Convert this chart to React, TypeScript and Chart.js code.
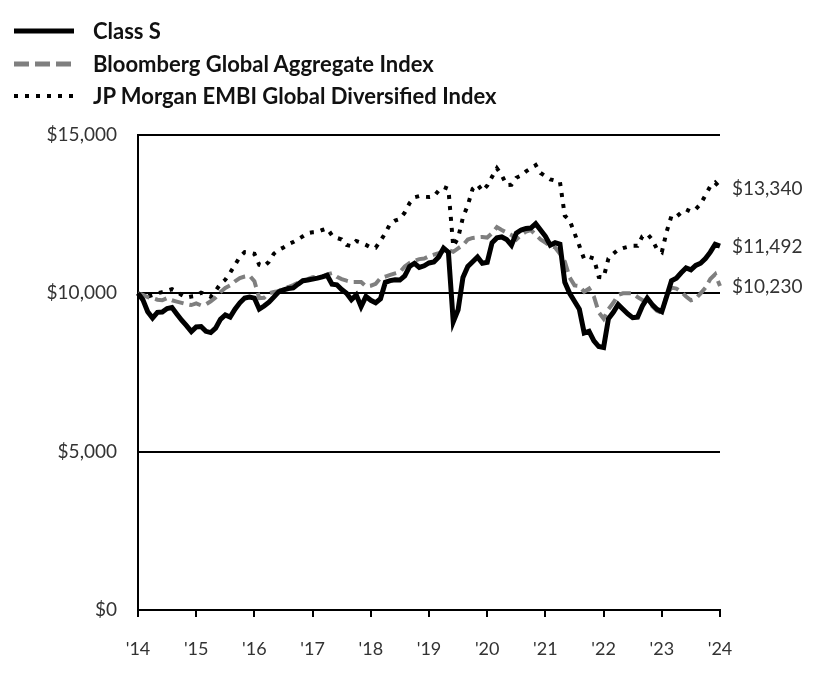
import React, { useEffect, useRef } from "react";
import { Chart, registerables } from "chart.js";

Chart.register(...registerables);

const yearLabels = ["'14", "'15", "'16", "'17", "'18", "'19", "'20", "'21", "'22", "'23", "'24"];

const seriesNames = ["Class S", "Bloomberg Global Aggregate Index", "JP Morgan EMBI Global Diversified Index"];

const classS = [
  10000, 9800, 9420, 9220, 9400, 9410, 9520, 9550, 9350, 9150, 8980, 8790,
  8940, 8950, 8800, 8760, 8900, 9180, 9320, 9250, 9500, 9700, 9850, 9880,
  9850, 9500, 9600, 9720, 9880, 10050, 10110, 10150, 10170, 10290, 10400, 10420,
  10450, 10480, 10520, 10570, 10290, 10270, 10120, 10000, 9800, 9950, 9580, 9900,
  9780, 9700, 9830, 10350, 10400, 10430, 10420, 10550, 10850, 10950, 10820, 10870,
  10960, 10990, 11150, 11430, 11300, 9100, 9480, 10500, 10850, 11000, 11150, 10950,
  10980, 11600, 11750, 11780, 11700, 11520, 11900, 12000, 12050, 12060, 12200, 12000,
  11800, 11520, 11600, 11550, 10350, 10000, 9750, 9500, 8750, 8800, 8500, 8320,
  8290, 9200, 9400, 9650, 9500, 9350, 9230, 9250, 9600, 9850, 9650, 9500,
  9420, 9900, 10400, 10480, 10650, 10800, 10740, 10880, 10950, 11100, 11300, 11550,
  11492,
];

const bloomberg = [
  10000, 9950, 9880, 9850, 9800, 9780, 9850, 9780, 9740, 9700, 9660, 9630,
  9680, 9620, 9650, 9750, 9870, 10040, 10170, 10250, 10380, 10480, 10530, 10560,
  10380, 9850, 9860, 10000, 10040, 10070, 10170, 10200, 10260, 10330, 10360, 10450,
  10510, 10520, 10520, 10600, 10640, 10520, 10450, 10400, 10360, 10360, 10360, 10220,
  10240, 10300, 10480, 10530, 10580, 10630, 10670, 10850, 10960, 11030, 11080, 11100,
  11170, 11220, 11270, 11330, 11370, 11310, 11420, 11520, 11700, 11750, 11770, 11780,
  11760, 11900, 12090, 12000, 11920, 11840, 11700, 11850, 11950, 12000, 11850, 11700,
  11600, 11500, 11450, 11250, 11000, 10500, 10250, 10230, 10050, 10150, 9900, 9400,
  9200, 9500, 9700, 9950, 10000, 10000, 10000, 9880, 9790, 9700, 9600, 9450,
  9380, 9950, 10180, 10150, 10050, 9900, 9780, 9830, 10000, 10180, 10450, 10600,
  10230,
];

const embi = [
  10000, 9950, 9900, 9950, 10000, 10040, 10080, 10130, 10050, 9950, 9870, 9900,
  9920, 10020, 9960, 9890, 10080, 10300, 10430, 10650, 10900, 11150, 11300, 11290,
  11250, 10900, 10850, 11000, 11250, 11370, 11450, 11550, 11620, 11710, 11800, 11900,
  11930, 11940, 12000, 12050, 11830, 11750, 11700, 11530, 11490, 11650, 11600, 11530,
  11450, 11440, 11660, 11900, 12200, 12300, 12350, 12550, 12850, 13030, 13070, 13050,
  13040, 13060, 13250, 13360, 13300, 11480, 11750, 12400, 12780, 13300, 13440, 13230,
  13400, 13680, 13950, 13730, 13420, 13430, 13650, 13720, 13850, 13950, 14050, 13800,
  13700, 13600, 13560, 13520, 12450, 12300, 11900, 11500, 11080, 11150, 11100, 10520,
  10500, 11100, 11250, 11380, 11430, 11470, 11500, 11500, 11800, 11880, 11700, 11400,
  11300, 11950, 12450, 12420, 12550, 12650, 12580, 12660, 12820, 13100, 13380, 13500,
  13340,
];

const monthLabels: string[] = [];
for (let i = 0; i <= 120; i++) monthLabels.push(String(i));

const FONT = "Lato, 'Open Sans', sans-serif";
const TEXT = "#333333";

const fmt = (v: number) => "$" + v.toLocaleString("en-US");

const endLabels = {
  id: "endLabels",
  afterDatasetsDraw(chart: any) {
    const ctx = chart.ctx;
    const x = chart.chartArea.right + 12;
    ctx.save();
    ctx.font = `19px ${FONT}`;
    ctx.fillStyle = TEXT;
    ctx.textAlign = "left";
    ctx.textBaseline = "middle";
    chart.data.datasets.forEach((ds: any, i: number) => {
      const meta = chart.getDatasetMeta(i);
      const pt = meta.data[meta.data.length - 1];
      const v = ds.data[ds.data.length - 1];
      ctx.fillText(fmt(v), x, pt.y + 1);
    });
    ctx.restore();
  },
};

function LegendRow({ top, kind, label }: { top: number; kind: number; label: string }) {
  const stroke =
    kind === 0
      ? { stroke: "#000", strokeWidth: 5 }
      : kind === 1
      ? { stroke: "#7f7f7f", strokeWidth: 5, strokeDasharray: "15 6" }
      : { stroke: "#000", strokeWidth: 4, strokeDasharray: "4 7" };
  return (
    <div style={{ position: "absolute", left: 0, top: top - 16, height: 32, width: 840 }}>
      <svg width={80} height={32} style={{ position: "absolute", left: 0, top: 0 }}>
        <line x1={14} y1={16} x2={74} y2={16} {...stroke} />
      </svg>
      <div
        style={{
          position: "absolute",
          left: 93,
          top: 0,
          lineHeight: "32px",
          fontFamily: FONT,
          fontWeight: 700,
          fontSize: 22,
          color: "#111",
          whiteSpace: "nowrap",
        }}
      >
        {label}
      </div>
    </div>
  );
}

export default function App() {
  const ref = useRef<HTMLCanvasElement | null>(null);
  useEffect(() => {
    document.body.style.margin = "0";
    if (!ref.current) return;
    const chart = new Chart(ref.current, {
      type: "line",
      data: {
        labels: monthLabels,
        datasets: [
          {
            label: seriesNames[0],
            data: classS,
            borderColor: "#000",
            borderWidth: 5,
            pointRadius: 0,
            tension: 0,
            order: 0,
          },
          {
            label: seriesNames[1],
            data: bloomberg,
            borderColor: "#7f7f7f",
            borderWidth: 4,
            borderDash: [12, 6],
            pointRadius: 0,
            tension: 0,
            order: 1,
          },
          {
            label: seriesNames[2],
            data: embi,
            borderColor: "#000",
            borderWidth: 4,
            borderDash: [4, 7],
            pointRadius: 0,
            tension: 0,
            order: 2,
          },
        ],
      },
      options: {
        animation: false,
        responsive: false,
        maintainAspectRatio: false,
        layout: { padding: { left: 0, right: 120, top: 135, bottom: 0 } },
        plugins: { legend: { display: false }, tooltip: { enabled: false } },
        scales: {
          x: {
            type: "category",
            offset: false,
            afterFit: (s: any) => {
              s.height = 86;
            },
            grid: {
              drawOnChartArea: false,
              drawTicks: true,
              tickLength: 7,
              color: "#000",
              lineWidth: 2,
            },
            border: { display: true, color: "#000", width: 2 },
            ticks: {
              autoSkip: false,
              maxRotation: 0,
              padding: 21,
              color: TEXT,
              font: { family: FONT, size: 18 },
              callback: (_v: any, i: number) => (i % 12 === 0 ? yearLabels[i / 12] : null),
            },
          },
          y: {
            min: 0,
            max: 15000,
            afterFit: (s: any) => {
              s.width = 138;
            },
            grid: { color: "#000", lineWidth: 2, drawTicks: false },
            border: { display: true, color: "#000", width: 2 },
            ticks: {
              stepSize: 5000,
              padding: 21,
              color: TEXT,
              font: { family: FONT, size: 19 },
              callback: (v: any) => fmt(Number(v)),
            },
          },
        },
      },
      plugins: [endLabels],
    });
    return () => chart.destroy();
  }, []);
  return (
    <div style={{ position: "relative", width: 840, height: 696, background: "#fff" }}>
      <canvas ref={ref} width={840} height={696} style={{ position: "absolute", left: 0, top: 0 }} />
      <LegendRow top={31} kind={0} label={seriesNames[0]} />
      <LegendRow top={64} kind={1} label={seriesNames[1]} />
      <LegendRow top={96} kind={2} label={seriesNames[2]} />
    </div>
  );
}
